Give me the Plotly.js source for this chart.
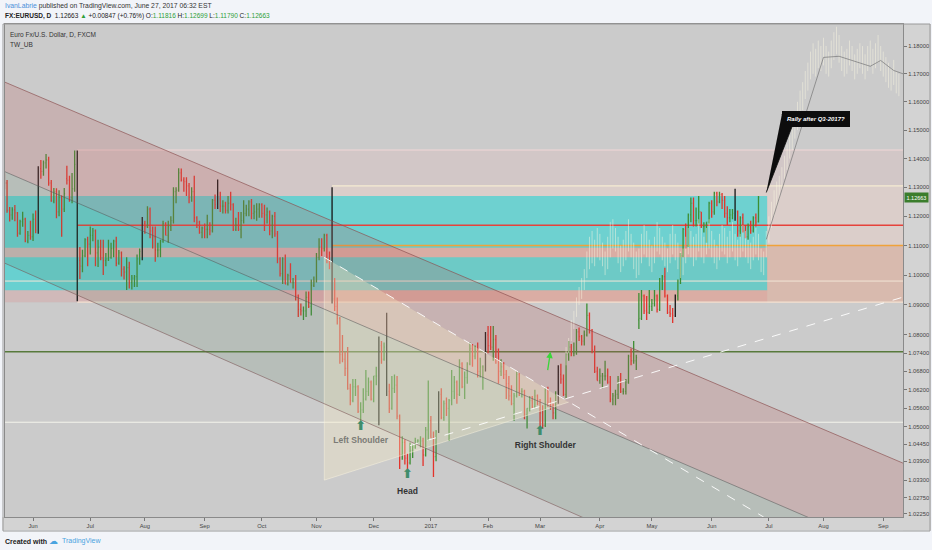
<!DOCTYPE html>
<html>
<head>
<meta charset="utf-8">
<script src="https://cdn.plot.ly/plotly-3.0.1.min.js"></script>
<style>
html,body{margin:0;padding:0;background:#f2f4f9;overflow:hidden;}
#chart{width:932px;height:550px;}
</style>
</head>
<body>
<div id="chart"></div>
<script>
// ---------------- DATA ----------------
const firstBarDate = '2016-05-17';   // first daily bar (weekdays follow)
const barOpen = [
1.1316,1.1315,1.1220,1.1205,
1.1222,1.1212,1.1142,1.1182,1.1190,
1.1115,1.1135,1.1130,1.1190,1.1153,
1.1365,1.1355,1.1385,1.1395,1.1315,
1.1252,1.1285,1.1215,1.1265,1.1225,
1.1330,1.1325,1.1265,1.1295,1.1380,
1.1050,1.1030,1.1065,1.1120,1.1105,
1.1135,1.1150,1.1075,1.1095,1.1058,
1.1050,1.1055,1.1060,1.1090,1.1115,
1.1040,1.1075,1.1020,1.1010,1.1025,
1.0975,1.0990,1.0995,1.1055,1.1080,
1.1175,1.1165,1.1225,1.1150,1.1130,
1.1085,1.1085,1.1115,1.1175,1.1135,
1.1165,1.1185,1.1285,1.1290,1.1350,
1.1325,1.1320,1.1305,1.1265,1.1285,
1.1195,1.1180,1.1145,1.1160,1.1155,
1.1155,1.1150,1.1255,1.1240,1.1260,
1.1235,1.1235,1.1220,1.1245,1.1240,
1.1155,1.1170,1.1155,1.1185,1.1210,
1.1225,1.1250,1.1210,1.1215,1.1225,
1.1240,1.1210,1.1205,1.1215,1.1150,
1.1200,1.1140,1.1055,1.1005,1.1055,
1.0970,1.0998,1.0975,1.0975,1.0930,
1.0885,1.0880,1.0880,1.0925,1.0895,
1.0965,1.0980,1.1060,1.1095,1.1090,
1.1135,1.1045,1.1030,1.0920,1.0895,
1.0855,1.0735,1.0720,1.0690,1.0625,
1.0585,1.0630,1.0630,1.0550,1.0555,
1.0590,1.0615,1.0645,1.0590,1.0665,
1.0665,1.0765,1.0720,1.0760,1.0615,
1.0560,1.0625,1.0635,1.0535,1.0410,
1.0450,1.0400,1.0385,1.0425,1.0435,
1.0455,1.0455,1.0455,1.0410,1.0490,
1.0520,1.0465,1.0405,1.0485,1.0605,
1.0530,1.0575,1.0560,1.0585,1.0615,
1.0645,1.0605,1.0705,1.0630,1.0660,
1.0705,1.0755,1.0730,1.0750,1.0680,
1.0695,1.0695,1.0800,1.0765,1.0760,
1.0785,1.0750,1.0680,1.0695,1.0670,
1.0640,1.0600,1.0575,1.0600,1.0670,
1.0615,1.0615,1.0540,1.0560,1.0585,
1.0565,1.0600,1.0575,1.0545,1.0505,
1.0620,1.0580,1.0565,1.0545,1.0580,
1.0670,1.0655,1.0605,1.0735,1.0760,
1.0740,1.0740,1.0810,1.0795,1.0780,
1.0800,1.0865,1.0815,1.0750,1.0680,
1.0650,1.0665,1.0665,1.0665,1.0645,
1.0590,1.0600,1.0605,1.0655,1.0615,
1.0615,1.0645,1.0730,1.0715,1.0715,
1.0850,1.0855,1.0930,1.0880,1.0875,
1.0895,1.0905,1.0930,1.0885,1.0980,
1.0995,1.0930,1.0875,1.0870,1.0865,
1.0930,1.0980,1.1065,1.1155,1.1100,
1.1205,1.1245,1.1185,1.1185,1.1215,
1.1165,1.1165,1.1180,1.1245,1.1215,
1.1280,1.1250,1.1275,1.1255,1.1210,
1.1195,1.1205,1.1210,1.1215,1.1150,
1.1195,1.1150,1.1130,1.1165,1.1150,
1.1195,1.1182];
const barHigh = [
1.1349,1.1325,1.1232,1.1231,
1.1239,1.1215,1.1188,1.1216,1.1195,
1.1150,1.1185,1.1210,1.1220,1.1373,
1.1395,1.1393,1.1416,1.1406,1.1325,
1.1298,1.1297,1.1290,1.1272,1.1298,
1.1375,1.1340,1.1350,1.1428,1.1428,
1.1095,1.1086,1.1125,1.1130,1.1165,
1.1160,1.1155,1.1120,1.1120,1.1120,
1.1075,1.1120,1.1110,1.1120,1.1130,
1.1085,1.1080,1.1030,1.1060,1.1045,
1.1000,1.1000,1.1070,1.1090,1.1198,
1.1185,1.1235,1.1230,1.1165,1.1165,
1.1110,1.1120,1.1185,1.1180,1.1185,
1.1200,1.1300,1.1300,1.1366,1.1365,
1.1335,1.1335,1.1315,1.1300,1.1340,
1.1200,1.1185,1.1165,1.1175,1.1205,
1.1180,1.1260,1.1275,1.1327,1.1285,
1.1255,1.1250,1.1270,1.1285,1.1245,
1.1195,1.1215,1.1215,1.1255,1.1240,
1.1255,1.1260,1.1240,1.1245,1.1245,
1.1245,1.1240,1.1230,1.1220,1.1205,
1.1215,1.1150,1.1060,1.1060,1.1070,
1.1005,1.1040,1.0990,1.1000,1.0935,
1.0905,1.0895,1.0945,1.0945,1.0985,
1.0995,1.1075,1.1125,1.1125,1.1140,
1.1140,1.1080,1.1300,1.0990,1.0925,
1.0860,1.0800,1.0745,1.0760,1.0640,
1.0655,1.0655,1.0635,1.0580,1.0625,
1.0685,1.0660,1.0650,1.0665,1.0695,
1.0795,1.0780,1.0775,1.0874,1.0640,
1.0665,1.0670,1.0665,1.0540,1.0470,
1.0460,1.0415,1.0450,1.0445,1.0465,
1.0460,1.0470,1.0465,1.0500,1.0650,
1.0535,1.0485,1.0490,1.0615,1.0625,
1.0585,1.0595,1.0590,1.0685,1.0665,
1.0650,1.0720,1.0710,1.0680,1.0710,
1.0775,1.0770,1.0765,1.0775,1.0725,
1.0700,1.0810,1.0830,1.0830,1.0830,
1.0800,1.0755,1.0720,1.0710,1.0685,
1.0665,1.0635,1.0610,1.0680,1.0675,
1.0625,1.0620,1.0560,1.0600,1.0600,
1.0620,1.0605,1.0590,1.0570,1.0625,
1.0630,1.0595,1.0575,1.0615,1.0700,
1.0705,1.0670,1.0740,1.0780,1.0770,
1.0775,1.0820,1.0825,1.0800,1.0815,
1.0905,1.0875,1.0820,1.0765,1.0695,
1.0690,1.0675,1.0715,1.0690,1.0665,
1.0610,1.0620,1.0665,1.0675,1.0625,
1.0655,1.0735,1.0755,1.0780,1.0735,
1.0940,1.0950,1.0935,1.0930,1.0950,
1.0920,1.0950,1.0935,1.0990,1.1000,
1.1025,1.0935,1.0900,1.0890,1.0935,
1.0985,1.1075,1.1160,1.1175,1.1210,
1.1265,1.1265,1.1230,1.1270,1.1215,
1.1180,1.1180,1.1250,1.1255,1.1285,
1.1285,1.1285,1.1280,1.1270,1.1235,
1.1225,1.1225,1.1295,1.1220,1.1200,
1.1210,1.1170,1.1175,1.1185,1.1200,
1.1210,1.1270];
const barLow = [
1.1293,1.1212,1.1182,1.1188,
1.1183,1.1130,1.1137,1.1164,1.1111,
1.1108,1.1120,1.1116,1.1142,1.1140,
1.1330,1.1340,1.1365,1.1305,1.1250,
1.1245,1.1193,1.1200,1.1130,1.1215,
1.1310,1.1250,1.1245,1.1285,1.0912,
1.0987,1.1010,1.1060,1.1030,1.1070,
1.1115,1.1030,1.1027,1.1050,1.1000,
1.1030,1.1048,1.1055,1.1060,1.1030,
1.1035,1.0995,1.0985,1.0950,1.0955,
1.0952,1.0960,1.0960,1.1035,1.1050,
1.1140,1.1160,1.1125,1.1090,1.1045,
1.1060,1.1060,1.1110,1.1135,1.1110,
1.1150,1.1175,1.1245,1.1285,1.1320,
1.1285,1.1270,1.1245,1.1250,1.1180,
1.1160,1.1140,1.1125,1.1125,1.1125,
1.1135,1.1145,1.1225,1.1225,1.1215,
1.1210,1.1210,1.1210,1.1220,1.1150,
1.1150,1.1150,1.1125,1.1175,1.1200,
1.1200,1.1190,1.1190,1.1185,1.1195,
1.1195,1.1150,1.1175,1.1135,1.1125,
1.1130,1.1040,1.0995,1.0970,1.0970,
1.0965,1.0975,1.0955,1.0915,1.0860,
1.0865,1.0850,1.0860,1.0890,1.0865,
1.0960,1.0975,1.1050,1.1065,1.1080,
1.1040,1.1020,1.0905,1.0880,1.0835,
1.0705,1.0710,1.0665,1.0620,1.0570,
1.0580,1.0600,1.0545,1.0518,1.0545,
1.0585,1.0600,1.0585,1.0580,1.0635,
1.0505,1.0705,1.0715,1.0600,1.0545,
1.0555,1.0610,1.0525,1.0365,1.0395,
1.0380,1.0352,1.0380,1.0400,1.0430,
1.0445,1.0435,1.0375,1.0405,1.0455,
1.0465,1.0340,1.0390,1.0480,1.0525,
1.0520,1.0535,1.0455,1.0570,1.0590,
1.0575,1.0600,1.0625,1.0590,1.0640,
1.0700,1.0695,1.0720,1.0660,1.0660,
1.0620,1.0680,1.0740,1.0750,1.0715,
1.0705,1.0640,1.0665,1.0655,1.0590,
1.0585,1.0570,1.0520,1.0595,1.0600,
1.0595,1.0525,1.0495,1.0550,1.0560,
1.0560,1.0570,1.0495,1.0495,1.0500,
1.0565,1.0555,1.0525,1.0525,1.0575,
1.0640,1.0600,1.0590,1.0715,1.0730,
1.0730,1.0735,1.0780,1.0765,1.0765,
1.0795,1.0805,1.0740,1.0675,1.0650,
1.0640,1.0625,1.0650,1.0640,1.0580,
1.0570,1.0570,1.0590,1.0610,1.0605,
1.0605,1.0640,1.0700,1.0705,1.0685,
1.0820,1.0850,1.0870,1.0850,1.0870,
1.0880,1.0895,1.0875,1.0880,1.0950,
1.0925,1.0870,1.0860,1.0840,1.0860,
1.0915,1.0970,1.1060,1.1090,1.1095,
1.1180,1.1165,1.1165,1.1175,1.1160,
1.1145,1.1110,1.1175,1.1195,1.1205,
1.1235,1.1245,1.1225,1.1195,1.1170,
1.1180,1.1190,1.1185,1.1130,1.1130,
1.1145,1.1125,1.1120,1.1140,1.1145,
1.1165,1.1179];
const barClose = [
1.1315,1.1220,1.1205,1.1222,
1.1212,1.1142,1.1182,1.1190,1.1115,
1.1135,1.1130,1.1190,1.1153,1.1365,
1.1355,1.1385,1.1395,1.1315,1.1252,
1.1285,1.1215,1.1265,1.1225,1.1278,
1.1325,1.1265,1.1295,1.1380,1.1115,
1.1030,1.1065,1.1120,1.1105,1.1135,
1.1150,1.1075,1.1095,1.1058,1.1050,
1.1055,1.1060,1.1090,1.1115,1.1040,
1.1075,1.1020,1.1010,1.1025,1.0975,
1.0990,1.0995,1.1055,1.1080,1.1175,
1.1165,1.1225,1.1150,1.1130,1.1085,
1.1085,1.1115,1.1175,1.1135,1.1165,
1.1185,1.1285,1.1290,1.1350,1.1325,
1.1320,1.1305,1.1265,1.1285,1.1195,
1.1180,1.1145,1.1160,1.1155,1.1155,
1.1150,1.1255,1.1240,1.1260,1.1235,
1.1235,1.1220,1.1245,1.1240,1.1155,
1.1170,1.1155,1.1185,1.1210,1.1225,
1.1250,1.1210,1.1215,1.1225,1.1240,
1.1210,1.1205,1.1215,1.1150,1.1200,
1.1140,1.1055,1.1005,1.1055,1.0970,
1.0998,1.0975,1.0975,1.0930,1.0885,
1.0880,1.0880,1.0925,1.0895,1.0965,
1.0980,1.1060,1.1095,1.1090,1.1135,
1.1045,1.1030,1.0920,1.0895,1.0855,
1.0735,1.0720,1.0690,1.0625,1.0585,
1.0630,1.0630,1.0550,1.0555,1.0590,
1.0615,1.0645,1.0590,1.0665,1.0665,
1.0765,1.0720,1.0760,1.0615,1.0560,
1.0625,1.0635,1.0535,1.0410,1.0450,
1.0400,1.0385,1.0425,1.0435,1.0455,
1.0455,1.0455,1.0410,1.0490,1.0520,
1.0465,1.0405,1.0485,1.0605,1.0530,
1.0575,1.0560,1.0585,1.0615,1.0645,
1.0605,1.0705,1.0630,1.0660,1.0705,
1.0755,1.0730,1.0750,1.0680,1.0695,
1.0695,1.0800,1.0765,1.0760,1.0785,
1.0750,1.0680,1.0695,1.0670,1.0640,
1.0600,1.0575,1.0600,1.0670,1.0615,
1.0615,1.0540,1.0560,1.0585,1.0565,
1.0600,1.0575,1.0545,1.0505,1.0620,
1.0580,1.0565,1.0545,1.0580,1.0670,
1.0655,1.0605,1.0735,1.0760,1.0740,
1.0740,1.0810,1.0795,1.0780,1.0800,
1.0865,1.0815,1.0750,1.0680,1.0650,
1.0665,1.0665,1.0665,1.0645,1.0590,
1.0600,1.0605,1.0655,1.0615,1.0615,
1.0645,1.0730,1.0715,1.0715,1.0725,
1.0855,1.0930,1.0880,1.0875,1.0895,
1.0905,1.0930,1.0885,1.0980,1.0995,
1.0930,1.0875,1.0870,1.0865,1.0930,
1.0980,1.1065,1.1155,1.1100,1.1205,
1.1245,1.1185,1.1185,1.1215,1.1165,
1.1165,1.1180,1.1245,1.1215,1.1280,
1.1250,1.1275,1.1255,1.1210,1.1195,
1.1205,1.1210,1.1215,1.1150,1.1195,
1.1150,1.1130,1.1165,1.1150,1.1195,
1.1180,1.1266];
const blackBarDates = ['2016-06-03','2016-06-24','2016-07-29','2016-09-08','2016-11-09','2016-12-05','2016-12-08','2017-01-05','2017-01-31','2017-03-10','2017-05-12','2017-06-14'];

// pale projected bars (bars-pattern copy)
const ghostFirstDate = '2017-03-15';
const ghostLow = [
1.0700,1.0740,1.0780,1.0820,1.0860,1.0900,1.0920,1.0950,
1.0990,1.1020,1.1040,1.1030,1.1060,
1.1050,1.1030,1.1000,1.1020,1.1060,
1.1090,1.1080,1.1040,1.1010,1.1030,
1.1050,1.1080,1.1060,1.1020,1.0990,
1.1000,1.1040,1.1070,1.1060,1.1030,
1.1010,1.1040,1.1080,1.1070,1.1050,
1.1030,1.1010,1.1040,1.1070,1.1050,
1.1020,1.0990,1.1000,1.1040,1.1070,
1.1060,1.1030,1.1050,1.1080,1.1060,
1.1040,1.1070,1.1090,1.1060,1.1040,
1.1020,1.1050,1.1080,1.1070,1.1040,
1.1060,1.1080,1.1050,1.1030,1.1060,
1.1080,1.1060,1.1040,1.1020,1.1050,
1.1070,1.1050,1.1010,1.1000,1.1060,
1.1110,1.1160,1.1200,1.1230,1.1260,
1.1290,1.1330,1.1360,1.1400,1.1430,
1.1470,1.1500,1.1540,1.1570,1.1610,
1.1640,1.1680,1.1700,1.1690,1.1720,
1.1710,1.1730,1.1700,1.1690,1.1720,
1.1750,1.1770,1.1740,1.1710,1.1690,
1.1700,1.1730,1.1710,1.1680,1.1700,
1.1720,1.1700,1.1680,1.1710,1.1730,
1.1700,1.1720,1.1740,1.1710,1.1690,
1.1670,1.1650,1.1640,1.1660,1.1630,
1.1620];
const ghostHigh = [
1.0760,1.0790,1.0850,1.0880,1.0925,1.0960,1.0990,1.1020,
1.1080,1.1130,1.1150,1.1120,1.1160,
1.1140,1.1110,1.1080,1.1130,1.1180,
1.1190,1.1160,1.1130,1.1100,1.1120,
1.1150,1.1190,1.1140,1.1110,1.1080,
1.1090,1.1140,1.1170,1.1150,1.1120,
1.1100,1.1130,1.1180,1.1160,1.1130,
1.1110,1.1090,1.1140,1.1170,1.1140,
1.1110,1.1080,1.1090,1.1130,1.1160,
1.1150,1.1130,1.1140,1.1190,1.1160,
1.1130,1.1160,1.1190,1.1150,1.1120,
1.1100,1.1140,1.1170,1.1160,1.1130,
1.1150,1.1180,1.1140,1.1120,1.1140,
1.1170,1.1150,1.1120,1.1110,1.1130,
1.1160,1.1140,1.1090,1.1080,1.1150,
1.1200,1.1250,1.1290,1.1320,1.1340,
1.1370,1.1410,1.1450,1.1480,1.1520,
1.1560,1.1600,1.1640,1.1670,1.1710,
1.1740,1.1780,1.1810,1.1790,1.1820,
1.1800,1.1830,1.1800,1.1780,1.1820,
1.1850,1.1870,1.1840,1.1800,1.1780,
1.1790,1.1820,1.1800,1.1770,1.1790,
1.1810,1.1800,1.1770,1.1800,1.1820,
1.1790,1.1810,1.1840,1.1800,1.1780,
1.1760,1.1740,1.1720,1.1750,1.1710,
1.1700];

// projection line
const projDates  = ['2017-06-30 12:00','2017-08-01 12:00','2017-08-09 12:00','2017-08-25 12:00','2017-08-31 12:00','2017-09-07 12:00','2017-09-13 02:00'];
const projPrices = [1.1121,1.1759,1.1763,1.1727,1.1748,1.1712,1.1700];

// descending channel (left edge / right edge of view)
const channelDates = ['2016-05-17 17:00','2017-09-13 02:00'];
const channelTop   = [1.1670,1.0384];
const channelMid   = [1.1354,1.0086];
const channelBot   = [1.1040,0.9781];

// head & shoulders triangle and dashed trend lines
const triangleDates  = ['2016-11-04 12:00','2016-11-04 12:00','2017-03-16 12:00'];
const trianglePrices = [1.1060,1.0330,1.0580];
const dash1Dates = ['2016-11-04 12:00','2017-06-29 12:00'];
const dash1Prices = [1.1060,1.0214];
const dash2Dates = ['2016-12-21 12:00','2017-09-13 02:00'];
const dash2Prices = [1.0440,1.0926];

// callout tail
const tailDates  = ['2017-07-10 12:00','2017-07-14 12:00','2017-06-30 12:00'];
const tailPrices = [1.1555,1.1514,1.1282];

// labels
const labelDates  = ['2016-11-24 12:00','2016-12-20 12:00','2017-03-03 12:00'];
const labelPrices = [1.0454,1.0294,1.0438];
const labelTexts  = ['Left Shoulder','Head','Right Shoulder'];
const labelColors = ['#7b7b76','#333333','#333333'];
const arrowDates  = ['2016-11-24 12:00','2016-12-20 12:00','2017-03-01 12:00'];
const arrowPrices = [1.0499,1.0347,1.0484];

// levels
const levelTop = 1.1430, levelCream = 1.1305, levelZoneTop = 1.1270, levelRed = 1.1169,
      levelOrange = 1.1100, levelCyanA = 1.1093, levelCyanB = 1.1060, levelLight = 1.0980,
      levelCyanBBot = 1.0949, levelBase = 1.0909, levelGreen = 1.0745, levelWhite = 1.0515;
const lastPrice = 1.12663;

// axis ticks
const monthTickDates  = ['2016-06-01','2016-07-01','2016-08-01','2016-09-01','2016-10-03','2016-11-01','2016-12-01','2017-01-02','2017-02-01','2017-03-01','2017-04-03','2017-05-01','2017-06-01','2017-07-03','2017-08-01','2017-09-01'];
const monthTickLabels = ['Jun','Jul','Aug','Sep','Oct','Nov','Dec','2017','Feb','Mar','Apr','May','Jun','Jul','Aug','Sep'];
const priceTicks = [1.18,1.17,1.16,1.15,1.14,1.13,1.12,1.11,1.10,1.09,1.08,1.074,1.068,1.062,1.056,1.05,1.0445,1.039,1.033,1.0275,1.0225];

// ---------------- BUILD ----------------
function tradingDays(start, count) {
  const out = [];
  const d = new Date(start + 'T00:00:00Z');
  while (out.length < count) {
    const wd = d.getUTCDay();
    if (wd !== 0 && wd !== 6) out.push(d.toISOString().slice(0, 10));
    d.setUTCDate(d.getUTCDate() + 1);
  }
  return out;
}
const noon = s => s + ' 12:00';
const barDays = tradingDays(firstBarDate, barClose.length);

const groups = {};
['up','down','black'].forEach(k => groups[k] = {x:[],open:[],high:[],low:[],close:[]});
barDays.forEach((day, i) => {
  const key = blackBarDates.includes(day) ? 'black' : (barClose[i] >= barOpen[i] ? 'up' : 'down');
  const g = groups[key];
  g.x.push(noon(day)); g.open.push(barOpen[i]); g.high.push(barHigh[i]);
  g.low.push(barLow[i]); g.close.push(barClose[i]);
});
const barColors = {up:'#3d8e33', down:'#e3332b', black:'#151515'};
const ohlcTraces = Object.keys(groups).map(k => ({
  type:'ohlc', x:groups[k].x, open:groups[k].open, high:groups[k].high,
  low:groups[k].low, close:groups[k].close,
  increasing:{line:{color:barColors[k], width:1.3}},
  decreasing:{line:{color:barColors[k], width:1.3}},
  tickwidth: k === 'black' ? 0.1 : 0.3, hoverinfo:'skip', showlegend:false
}));

const ghostDays = tradingDays(ghostFirstDate, ghostHigh.length);
const gx = [], gy = [];
ghostDays.forEach((d, i) => { gx.push(noon(d), noon(d), null); gy.push(ghostLow[i], ghostHigh[i], null); });

const poly = (xs, ys, fill, line) => ({type:'scatter', mode:'lines', x:xs, y:ys, fill:'toself',
  fillcolor:fill, line:{width: line ? 0.8 : 0, color: line || 'rgba(0,0,0,0)'}, hoverinfo:'skip', showlegend:false});
const line = (xs, ys, color, width, dash) => ({type:'scatter', mode:'lines', x:xs, y:ys,
  line:{color, width, dash: dash || 'solid'}, hoverinfo:'skip', showlegend:false});

const L = channelDates[0], R = channelDates[1];
const traces = [
  poly([L,R,R,L], [channelTop[0],channelTop[1],channelMid[1],channelMid[0]], 'rgba(185,95,95,0.23)'),
  poly([L,R,R,L], [channelMid[0],channelMid[1],channelBot[1],channelBot[0]], 'rgba(90,130,100,0.17)'),
  poly(triangleDates, trianglePrices, 'rgba(245,235,195,0.34)', 'rgba(250,245,225,0.6)'),
  line(channelDates, channelTop, 'rgba(140,80,80,0.85)', 0.8),
  line(channelDates, channelMid, 'rgba(90,90,90,0.7)', 0.8),
  line(channelDates, channelBot, 'rgba(120,80,80,0.7)', 0.8),
  line(dash1Dates, dash1Prices, 'rgba(255,255,255,0.9)', 1, 'dash'),
  line(dash2Dates, dash2Prices, 'rgba(255,255,255,0.9)', 1, 'dash'),
  {type:'scatter', mode:'lines', x:gx, y:gy, line:{color:'rgba(250,246,226,0.55)', width:0.9}, hoverinfo:'skip', showlegend:false, connectgaps:false},
  line(projDates, projPrices, 'rgba(120,120,120,0.9)', 0.8),
  ...ohlcTraces,
  poly(tailDates, tailPrices, '#0d0d0d', '#0d0d0d'),
  {type:'scatter', mode:'text', x:arrowDates, y:arrowPrices, text:arrowDates.map(() => '<b>⬆</b>'),
   textfont:{family:'DejaVu Sans', size:13, color:'#3f8d6c'}, textposition:'middle center', hoverinfo:'skip', showlegend:false},
  {type:'scatter', mode:'text', x:labelDates, y:labelPrices, text:labelTexts.map(t => '<b>' + t + '</b>'),
   textfont:{family:'Liberation Sans', size:8.5, color:labelColors}, textposition:'middle center', hoverinfo:'skip', showlegend:false}
];

const FAR_L = '2016-01-04 12:00', FAR_R = '2017-12-29 12:00';
const band = (x0, x1, y0, y1, c) => ({type:'rect', xref:'x', yref:'y', x0, x1, y0, y1, fillcolor:c, line:{width:0}, layer:'below'});
const hline = (x0, x1, y, c, w) => ({type:'line', xref:'x', yref:'y', x0, x1, y0:y, y1:y, line:{color:c, width:w}, layer:'below'});
const CYAN_END = '2017-06-30 20:00', BREXIT = '2016-06-24 12:00', ELECTION = '2016-11-09 12:00';

const shapes = [
  {type:'rect', xref:'paper', yref:'paper', x0:1, x1:1.031, y0:-0.027, y1:1, fillcolor:'#d3d3d3', line:{width:0}, layer:'below'},
  {type:'rect', xref:'paper', yref:'paper', x0:-0.003, x1:1.031, y0:-0.027, y1:0, fillcolor:'#d3d3d3', line:{width:0}, layer:'below'},
  band(BREXIT, FAR_R, levelBase, levelTop, 'rgba(238,188,188,0.22)'),
  band(ELECTION, FAR_R, levelOrange, levelCream, 'rgba(250,232,212,0.22)'),
  band(ELECTION, FAR_R, levelBase, levelOrange, 'rgba(236,150,105,0.26)'),
  band(FAR_L, CYAN_END, levelBase, levelZoneTop, 'rgba(222,140,140,0.28)'),
  band(FAR_L, CYAN_END, levelCyanA, levelZoneTop, 'rgba(0,232,232,0.50)'),
  band(FAR_L, CYAN_END, levelCyanBBot, levelCyanB, 'rgba(0,232,232,0.50)'),
  hline(BREXIT, FAR_R, levelTop, '#f2d8d8', 1.2),
  hline(ELECTION, FAR_R, levelCream, '#f6ebd2', 1.2),
  hline(BREXIT, FAR_R, levelRed, '#e6423b', 1.5),
  hline(ELECTION, FAR_R, levelOrange, '#f0a23a', 1.5),
  hline(FAR_L, FAR_R, levelLight, '#f3e5d8', 1),
  hline(BREXIT, FAR_R, levelBase, '#f4e2d2', 1.2),
  hline(FAR_L, FAR_R, levelGreen, '#587a3c', 1.5),
  hline(FAR_L, FAR_R, levelWhite, '#f5f5ec', 1),
  {type:'rect', xref:'paper', yref:'paper', x0:-0.0022, x1:1.0301, y0:-0.0284, y1:1, line:{color:'#9a9a9a', width:1}, fillcolor:'rgba(0,0,0,0)', layer:'above'}
];

const G = '#2e9e38';
const annotations = [
  {xref:'paper', yref:'paper', x:-0.0022, y:1.0365, xanchor:'left', yanchor:'middle', showarrow:false,
   text:'<span style="color:#4a90d9">IvanLabrie</span> published on TradingView.com, June 27, 2017 06:32 EST',
   font:{family:'Liberation Sans', size:6.8, color:'#333'}},
  {xref:'paper', yref:'paper', x:-0.0022, y:1.0162, xanchor:'left', yanchor:'middle', showarrow:false,
   text:'<b>FX:EURUSD, D</b>  1.12663 <span style="color:'+G+'">▲</span> +0.00847 (+0.76%) O:<span style="color:'+G+'">1.11816</span> H:<span style="color:'+G+'">1.12699</span> L:<span style="color:'+G+'">1.11790</span> C:<span style="color:'+G+'">1.12663</span>',
   font:{family:'Liberation Sans', size:6.5, color:'#222'}},
  {xref:'paper', yref:'paper', x:0.0033, y:0.9797, xanchor:'left', yanchor:'middle', showarrow:false,
   text:'Euro Fx/U.S. Dollar, D, FXCM', font:{family:'Liberation Sans', size:6.5, color:'#333'}},
  {xref:'paper', yref:'paper', x:0.0033, y:0.9574, xanchor:'left', yanchor:'middle', showarrow:false,
   text:'TW_UB', font:{family:'Liberation Sans', size:6.5, color:'#333'}},
  {xref:'paper', yref:'paper', x:-0.0022, y:-0.0487, xanchor:'left', yanchor:'middle', showarrow:false,
   text:'<b>Created with</b>', font:{family:'Liberation Sans', size:7, color:'#222'}},
  {xref:'paper', yref:'paper', x:0.0468, y:-0.0487, xanchor:'left', yanchor:'middle', showarrow:false,
   text:'☁', font:{family:'DejaVu Sans', size:9, color:'#4aa3df'}},
  {xref:'paper', yref:'paper', x:0.0612, y:-0.0487, xanchor:'left', yanchor:'middle', showarrow:false,
   text:'TradingView', font:{family:'Liberation Sans', size:7, color:'#4aa3df'}},
  {xref:'paper', yref:'y', x:1, xanchor:'left', xshift:1, y:Math.log10(lastPrice), yanchor:'middle', showarrow:false,
   text:lastPrice.toFixed(5), bgcolor:'#3a7d2c', borderpad:1.5, font:{family:'Liberation Sans', size:5.5, color:'#ffffff'}},
  {xref:'x', yref:'y', x:'2017-07-27 12:00', y:Math.log10(1.1538), showarrow:false,
   text:'<b><i>Rally after Q3-2017?</i></b>', bgcolor:'#0d0d0d', bordercolor:'#0d0d0d', borderpad:4,
   font:{family:'Liberation Sans', size:6, color:'#ffffff'}},
  {xref:'x', yref:'y', x:'2017-03-07 12:00', y:Math.log10(1.0745), ax:-3, ay:20, showarrow:true,
   arrowhead:2, arrowsize:1, arrowwidth:1.3, arrowcolor:'#39d639', text:''}
];

const tickFont = {family:'Liberation Sans', size:5.8, color:'#444'};
const layout = {
  width:932, height:550,
  margin:{l:5, r:29, t:24, b:33},
  paper_bgcolor:'#f2f4f9', plot_bgcolor:'#cbcbcb',
  showlegend:false, hovermode:false, dragmode:false,
  font:{family:'Liberation Sans'},
  xaxis:{type:'date', range:['2016-05-17 17:00','2017-09-13 02:00'],
    rangebreaks:[{bounds:['sat','mon']}], rangeslider:{visible:false},
    tickvals:monthTickDates.map(noon), ticktext:monthTickLabels,
    ticks:'outside', ticklen:3, tickcolor:'#777', tickfont:tickFont,
    showgrid:false, zeroline:false, showline:true, linecolor:'#8a8a8a', mirror:true, fixedrange:true},
  yaxis:{type:'log', range:[Math.log10(1.0214), Math.log10(1.1880)], side:'right',
    tickvals:priceTicks, ticktext:priceTicks.map(v => v.toFixed(5)),
    ticks:'outside', ticklen:3, tickcolor:'#777', tickfont:tickFont,
    showgrid:false, zeroline:false, showline:true, linecolor:'#8a8a8a', mirror:true, fixedrange:true},
  shapes, annotations
};

Plotly.newPlot('chart', traces, layout, {staticPlot:true, displayModeBar:false});
</script>
</body>
</html>
